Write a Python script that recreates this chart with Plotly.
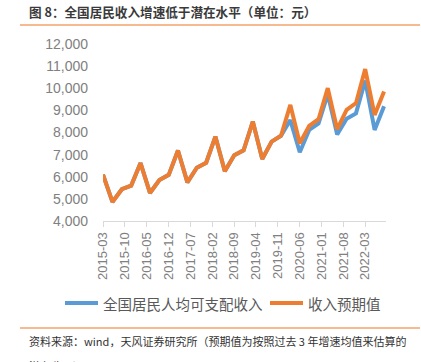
import plotly.graph_objects as go

dates = ["2015-03","2015-06","2015-09","2015-12",
         "2016-03","2016-06","2016-09","2016-12",
         "2017-03","2017-06","2017-09","2017-12",
         "2018-03","2018-06","2018-09","2018-12",
         "2019-03","2019-06","2019-09","2019-12",
         "2020-03","2020-06","2020-09","2020-12",
         "2021-03","2021-06","2021-09","2021-12",
         "2022-03","2022-06","2022-09"]
actual = [6100, 4860, 5436, 5599,
          6619, 5267, 5849, 6086,
          7184, 5748, 6410, 6632,
          7815, 6248, 6972, 7193,
          8493, 6801, 7588, 7851,
          8561, 7105, 8115, 8408,
          9730, 7912, 8623, 8863,
          10345, 8118, 9187]
expected = [6100, 4860, 5436, 5599,
            6619, 5267, 5849, 6086,
            7184, 5748, 6410, 6632,
            7815, 6248, 6972, 7193,
            8493, 6801, 7588, 7851,
            9249, 7516, 8299, 8600,
            10004, 8149, 9023, 9326,
            10864, 8796, 9851]
tick_labels = ["2015-03","2015-10","2016-05","2016-12","2017-07","2018-02","2018-09",
               "2019-04","2019-11","2020-06","2021-01","2021-08","2022-03"]
series_names = ["全国居民人均可支配收入", "收入预期值"]
series_colors = ["#5B9BD5", "#ED7D31"]

x = [d + "-01" for d in dates]
tickvals = [t + "-01" for t in tick_labels]

W, H = 421, 362
L, R, T, B = 103, 386, 44, 221

def px(xp):
    return (xp - L) / (R - L)

def py(yp):
    return (B - yp) / (B - T)

fig = go.Figure()
for name, vals, col in zip(series_names, [actual, expected], series_colors):
    fig.add_trace(go.Scatter(x=x, y=vals, mode="lines", name=name,
                             line=dict(color=col, width=4), showlegend=False))

font_cjk = "Noto Sans CJK SC, Liberation Sans, sans-serif"

shapes = [
    dict(type="line", xref="paper", yref="paper", x0=px(20), x1=px(420), y0=py(25), y1=py(25),
         line=dict(color="#F4A36B", width=1.5)),
    dict(type="line", xref="paper", yref="paper", x0=px(20), x1=px(420), y0=py(328), y1=py(328),
         line=dict(color="#F4A36B", width=1.5)),
]
annotations = [
    dict(text="<b>图 8：全国居民收入增速低于潜在水平（单位：元）</b>", xref="paper", yref="paper",
         x=px(27), y=py(12), xanchor="left", yanchor="middle", showarrow=False,
         font=dict(family=font_cjk, size=12.6, color="#3a3a3a")),
    dict(text="资料来源：wind，天风证券研究所（预期值为按照过去 3 年增速均值来估算的",
         xref="paper", yref="paper", x=px(27), y=py(341), xanchor="left", yanchor="middle",
         showarrow=False, font=dict(family=font_cjk, size=11, color="#333333")),
    dict(text="潜在收入）",
         xref="paper", yref="paper", x=px(27), y=py(366), xanchor="left", yanchor="middle",
         showarrow=False, font=dict(family=font_cjk, size=11, color="#333333")),
]
# custom legend
leg_items = [(65, 98, 101), (270, 303, 306)]
for (x0, x1, tx), name, col in zip(leg_items, series_names, series_colors):
    shapes.append(dict(type="line", xref="paper", yref="paper", x0=px(x0), x1=px(x1),
                       y0=py(303), y1=py(303), line=dict(color=col, width=4)))
    annotations.append(dict(text=name, xref="paper", yref="paper", x=px(tx), y=py(303),
                            xanchor="left", yanchor="middle", showarrow=False,
                            font=dict(family=font_cjk, size=14.5, color="#595959")))

fig.update_layout(
    width=W, height=H,
    margin=dict(l=L, r=W - R, t=T, b=H - B, autoexpand=False),
    paper_bgcolor="white", plot_bgcolor="white",
    showlegend=False,
    hovermode=False,
    xaxis=dict(type="date", range=["2015-03-01", "2022-09-20"],
               tickmode="array", tickvals=tickvals, ticktext=tick_labels,
               tickangle=-90, showgrid=False, showline=True, linecolor="#D9D9D9", linewidth=1,
               ticks="outside", ticklen=5, tickcolor="#D9D9D9",
               tickfont=dict(family="Liberation Sans, Arial, sans-serif", size=13, color="#808080"),
               zeroline=False),
    yaxis=dict(range=[4000, 12000], tickvals=list(range(4000, 12001, 1000)), tickformat=",",
               showgrid=False, showline=False, zeroline=False, ticks="", ticklabelstandoff=14,
               tickfont=dict(family="Liberation Sans, Arial, sans-serif", size=14, color="#808080")),
    shapes=shapes,
    annotations=annotations,
)

fig.write_html("out.html", config={"displayModeBar": False, "staticPlot": True},
               post_script="document.body.style.margin='0';document.body.style.overflow='hidden';")
